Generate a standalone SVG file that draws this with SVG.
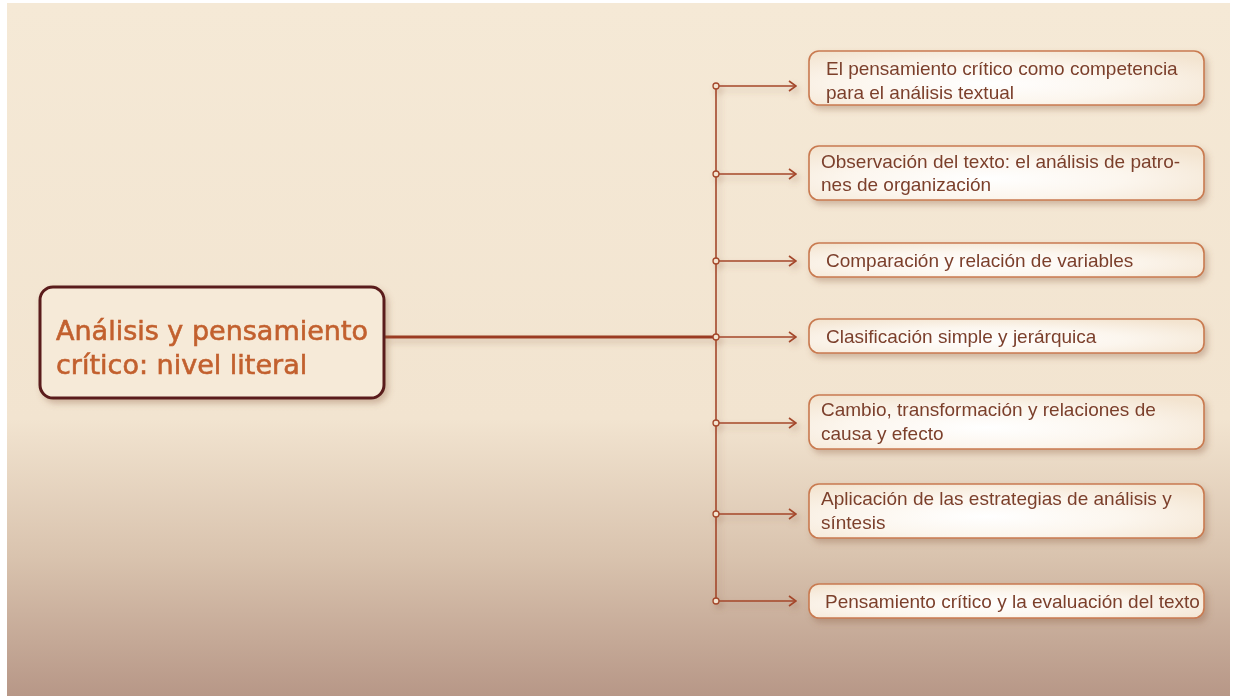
<svg xmlns="http://www.w3.org/2000/svg" width="1236" height="696" viewBox="0 0 1236 696">
<defs>
<linearGradient id="bg" x1="0" y1="0" x2="0" y2="1">
<stop offset="0" stop-color="#F5E9D6"/>
<stop offset="0.6" stop-color="#F2E4D0"/>
<stop offset="0.8" stop-color="#D9C3AE"/>
<stop offset="1" stop-color="#B79787"/>
</linearGradient>
<radialGradient id="boxfill" cx="0.45" cy="0.6" r="0.7">
<stop offset="0" stop-color="#FFFFFF"/>
<stop offset="0.5" stop-color="#FCF6EE"/>
<stop offset="1" stop-color="#F3E4D0"/>
</radialGradient>
<filter id="sh" x="-10%" y="-30%" width="120%" height="170%">
<feGaussianBlur in="SourceAlpha" stdDeviation="3"/>
<feOffset dx="3" dy="4" result="b"/>
<feFlood flood-color="#8A5A40" flood-opacity="0.35"/>
<feComposite in2="b" operator="in"/>
<feMerge><feMergeNode/><feMergeNode in="SourceGraphic"/></feMerge>
</filter>
<marker id="arr" viewBox="0 0 10 12" refX="9" refY="6" markerWidth="10" markerHeight="12" markerUnits="userSpaceOnUse" orient="auto">
<path d="M2,1 L9,6 L2,11" fill="none" stroke="#A4472A" stroke-width="1.6"/>
</marker>
<style>
.box{fill:url(#boxfill);stroke:#C97A50;stroke-width:1.6}
.t{font-family:"Liberation Sans","DejaVu Sans",sans-serif;font-size:19px;fill:#7B3F2C}
.br{stroke:#A4472A;stroke-width:1.6;fill:none}
.dot{fill:#F3E4D0;stroke:#A4472A;stroke-width:1.3}
</style>
</defs>
<rect x="0" y="0" width="1236" height="696" fill="#FFFFFF"/>
<rect x="7" y="3" width="1223" height="693" fill="url(#bg)"/>
<g id="connectors" filter="url(#sh)">
<line x1="384" y1="337" x2="716" y2="337" stroke="#9B3B22" stroke-width="3"/>
<line x1="716" y1="86" x2="716" y2="601" class="br"/>
<line x1="716" y1="86" x2="796" y2="86" class="br" marker-end="url(#arr)"/>
<line x1="716" y1="174" x2="796" y2="174" class="br" marker-end="url(#arr)"/>
<line x1="716" y1="261" x2="796" y2="261" class="br" marker-end="url(#arr)"/>
<line x1="716" y1="337" x2="796" y2="337" class="br" marker-end="url(#arr)"/>
<line x1="716" y1="423" x2="796" y2="423" class="br" marker-end="url(#arr)"/>
<line x1="716" y1="514" x2="796" y2="514" class="br" marker-end="url(#arr)"/>
<line x1="716" y1="601" x2="796" y2="601" class="br" marker-end="url(#arr)"/>
<circle cx="716" cy="86" r="3" class="dot"/>
<circle cx="716" cy="174" r="3" class="dot"/>
<circle cx="716" cy="261" r="3" class="dot"/>
<circle cx="716" cy="337" r="3" class="dot"/>
<circle cx="716" cy="423" r="3" class="dot"/>
<circle cx="716" cy="514" r="3" class="dot"/>
<circle cx="716" cy="601" r="3" class="dot"/>
</g>
<g id="main" filter="url(#sh)">
<rect x="40" y="287" width="344" height="111" rx="13" fill="#F6EAD8" stroke="#5A1A1A" stroke-width="3"/>
<text font-family="'DejaVu Sans','Liberation Sans',sans-serif" font-size="27" fill="#C2602E" stroke="#C2602E" stroke-width="0.6"><tspan x="56" y="340">Análisis y pensamiento</tspan><tspan x="56" y="374">crítico: nivel literal</tspan></text>
</g>
<g id="n1" filter="url(#sh)"><rect x="809" y="51" width="395" height="54" rx="10" class="box"/><text class="t"><tspan x="826" y="75">El pensamiento crítico como competencia</tspan><tspan x="826" y="99">para el análisis textual</tspan></text></g>
<g id="n2" filter="url(#sh)"><rect x="809" y="146" width="395" height="54" rx="10" class="box"/><text class="t"><tspan x="821" y="168">Observación del texto: el análisis de patro-</tspan><tspan x="821" y="191">nes de organización</tspan></text></g>
<g id="n3" filter="url(#sh)"><rect x="809" y="243" width="395" height="34" rx="10" class="box"/><text class="t" x="826" y="267">Comparación y relación de variables</text></g>
<g id="n4" filter="url(#sh)"><rect x="809" y="319" width="395" height="34" rx="10" class="box"/><text class="t" x="826" y="343">Clasificación simple y jerárquica</text></g>
<g id="n5" filter="url(#sh)"><rect x="809" y="395" width="395" height="54" rx="10" class="box"/><text class="t"><tspan x="821" y="416">Cambio, transformación y relaciones de</tspan><tspan x="821" y="440">causa y efecto</tspan></text></g>
<g id="n6" filter="url(#sh)"><rect x="809" y="484" width="395" height="54" rx="10" class="box"/><text class="t"><tspan x="821" y="505">Aplicación de las estrategias de análisis y</tspan><tspan x="821" y="529">síntesis</tspan></text></g>
<g id="n7" filter="url(#sh)"><rect x="809" y="584" width="395" height="34" rx="10" class="box"/><text class="t" x="825" y="608">Pensamiento crítico y la evaluación del texto</text></g>
</svg>
